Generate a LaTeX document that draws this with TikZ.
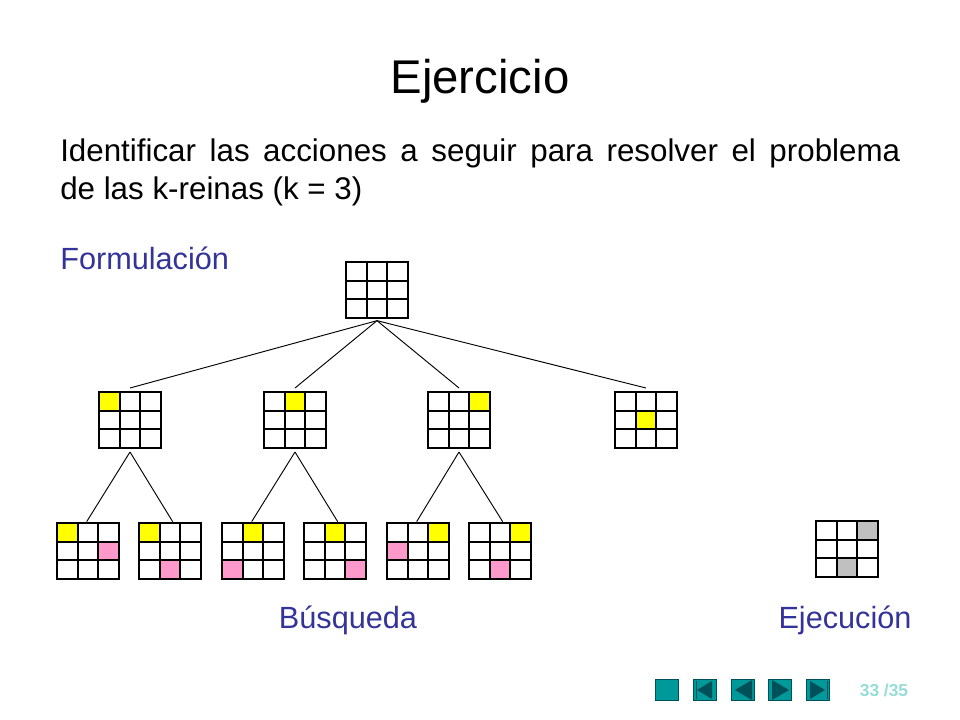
\documentclass[tikz,border=0pt]{standalone}
\usepackage{fontspec}
\setmainfont{Liberation Sans}
\definecolor{ttl}{RGB}{51,51,153}
\definecolor{tealb}{RGB}{0,153,153}
\definecolor{dteal}{RGB}{0,80,90}
\definecolor{pagec}{RGB}{150,220,215}
\definecolor{qy}{RGB}{255,255,0}
\definecolor{qp}{RGB}{255,153,204}
\definecolor{qg}{RGB}{192,192,192}
\newcommand{\board}[4]{% name, x, y, fills
  \begin{scope}[shift={(#2,#3)}]
  \foreach \c/\r/\f in {#4}{\fill[\f] (\c*20.67,\r*18.67) rectangle ++(20.67,18.67);}
  \foreach \i in {0,1,2,3}{\draw[gridl] (\i*20.67,0) -- (\i*20.67,56); \draw[gridl] (0,\i*18.67) -- (62,\i*18.67);}
  \end{scope}
  \coordinate (#1t) at (#2+31,#3);
  \coordinate (#1b) at (#2+31,#3+56);}
\begin{document}
\begin{tikzpicture}[x=0.75pt,y=-0.75pt,gridl/.style={line width=1.4pt,black,line cap=rect},
  edge/.style={line width=0.7pt,black},
  nav/.style={fill=tealb,draw=dteal,line width=0.5pt}]
\useasboundingbox (0,0) rectangle (960,720);
\node[font=\fontsize{35.5}{40}\selectfont] (title) at (480,81) {Ejercicio};
\node[anchor=north west,inner sep=0,text width=630pt,align=justify,font=\fontsize{23.5}{28}\selectfont] (body) at (60,139)
 {\hyphenpenalty=10000 Identificar las acciones a seguir para resolver el problema\linebreak de las k-reinas (k = 3)\par};
\node[anchor=west,inner sep=0,text=ttl,font=\fontsize{23}{26}\selectfont] (form) at (60,258) {Formulación};
\node[inner sep=0,text=ttl,font=\fontsize{23}{26}\selectfont] (busq) at (348,620) {Búsqueda};
\node[inner sep=0,text=ttl,font=\fontsize{23}{26}\selectfont] (ejec) at (845,620) {Ejecución};
\board{r}{346}{262}{}
\board{a}{99}{392}{0/0/qy}
\board{b}{264}{392}{1/0/qy}
\board{c}{428}{392}{2/0/qy}
\board{d}{615}{392}{1/1/qy}
\board{a1}{57}{523}{0/0/qy,2/1/qp}
\board{a2}{139}{523}{0/0/qy,1/2/qp}
\board{b1}{222}{523}{1/0/qy,0/2/qp}
\board{b2}{304}{523}{1/0/qy,2/2/qp}
\board{c1}{387}{523}{2/0/qy,0/1/qp}
\board{c2}{469}{523}{2/0/qy,1/2/qp}
\board{e}{816}{521}{2/0/qg,1/2/qg}
\draw[edge] ([yshift=-2pt]rb) -- ([yshift=3pt]at);
\draw[edge] ([yshift=-2pt]rb) -- ([yshift=3pt]bt);
\draw[edge] ([yshift=-2pt]rb) -- ([yshift=3pt]ct);
\draw[edge] ([yshift=-2pt]rb) -- ([yshift=3pt]dt);
\draw[edge] ([yshift=-3pt]ab) -- ([xshift=-1pt,yshift=1pt]a1t);
\draw[edge] ([yshift=-3pt]ab) -- ([xshift=2pt,yshift=1pt]a2t);
\draw[edge] ([yshift=-3pt]bb) -- ([xshift=-1pt,yshift=1pt]b1t);
\draw[edge] ([yshift=-3pt]bb) -- ([xshift=2pt,yshift=1pt]b2t);
\draw[edge] ([yshift=-3pt]cb) -- ([xshift=-1pt,yshift=1pt]c1t);
\draw[edge] ([yshift=-3pt]cb) -- ([xshift=2pt,yshift=1pt]c2t);
% nav
\node[nav,minimum width=17pt,minimum height=16pt,inner sep=0] (n1) at (667,690) {};
\node[nav,minimum width=17pt,minimum height=16pt,inner sep=0] (n2) at (705,690) {};
\node[nav,minimum width=17pt,minimum height=16pt,inner sep=0] (n3) at (743,690) {};
\node[nav,minimum width=17pt,minimum height=16pt,inner sep=0] (n4) at (780,690) {};
\node[nav,minimum width=17pt,minimum height=16pt,inner sep=0] (n5) at (818,690) {};
\fill[dteal] (697,690) -- (712,681) -- (712,699) -- cycle; \draw[dteal] (696,681)--(696,699);
\fill[dteal] (735,690) -- (752,680) -- (752,700) -- cycle;
\fill[dteal] (789,690) -- (772,680) -- (772,700) -- cycle;
\fill[dteal] (825,690) -- (810,681) -- (810,699) -- cycle; \draw[dteal] (827,681)--(827,699);
\node[text=pagec,font=\bfseries\fontsize{13}{15}\selectfont] (pg) at (884,690) {33 /35};
\end{tikzpicture}
\end{document}
